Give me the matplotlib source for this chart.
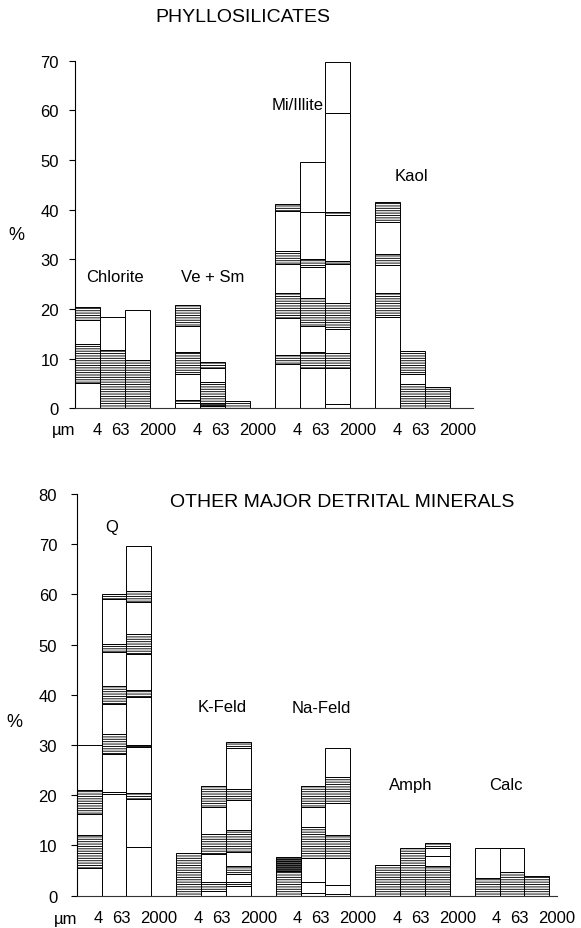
import numpy as np
import matplotlib.pyplot as plt

plt.rcParams['font.family'] = ['Liberation Sans', 'DejaVu Sans']
plt.rcParams['hatch.linewidth'] = 0.65
plt.rcParams['hatch.color'] = '#111111'

# each bar: segment boundaries (%) and fill code per segment
# w = white, h = hatched, d = dark hatched
size_labels = ['4', '63', '2000']

chlorite_bounds = [[0, 5.0, 12.9, 17.8, 20.5], [0, 11.7, 18.3], [0, 9.7, 19.8]]
chlorite_fill = ['whwh', 'hw', 'hw']

vesm_bounds = [[0, 1.0, 1.6, 7.0, 11.3, 16.6, 20.8], [0, 0.5, 1.0, 5.4, 8.1, 9.3], [0, 1.5]]
vesm_fill = ['whwhwh', 'hdhwh', 'h']

illite_bounds = [[0, 8.9, 10.7, 18.1, 23.2, 29.1, 31.6, 39.7, 41.1],
                 [0, 8.1, 11.3, 16.6, 22.3, 28.5, 30.0, 39.5, 49.5],
                 [0, 0.8, 8.1, 11.2, 16.0, 21.2, 29.1, 29.7, 39.0, 39.5, 59.4, 69.8]]
illite_fill = ['whwhwhwh', 'whwhwhww', 'wwhwhwhwhww']

kaol_bounds = [[0, 18.3, 23.2, 28.9, 31.1, 37.6, 41.5], [0, 4.8, 7.0, 11.5], [0, 4.2]]
kaol_fill = ['whwhwh', 'hwh', 'h']

q_bounds = [[0, 5.5, 12.0, 16.3, 21.1, 30.0],
            [0, 20.3, 20.7, 28.2, 32.2, 38.1, 41.7, 48.6, 50.1, 59.0, 60.0],
            [0, 9.6, 19.3, 20.4, 29.6, 30.0, 39.5, 41.0, 48.1, 52.1, 58.4, 60.6, 69.6]]
q_fill = ['whwhw', 'wwwhwhwhwh', 'wwhwhwhwhwhw']

kfeld_bounds = [[0, 8.4], [0, 1.0, 2.7, 8.2, 12.3, 17.7, 21.8],
                [0, 2.0, 2.7, 4.3, 5.9, 8.6, 13.0, 19.1, 21.3, 29.4, 30.6]]
kfeld_fill = ['h', 'whwhwh', 'whwhwhwhwh']

nafeld_bounds = [[0, 5.0, 7.8], [0, 0.6, 2.7, 7.5, 13.6, 17.7, 21.8],
                 [0, 0.4, 2.1, 7.6, 12.0, 18.4, 23.6, 29.4]]
nafeld_fill = ['hd', 'wwwhwh', 'wwwhwhw']

amph_bounds = [[0, 6.2], [0, 9.5], [0, 6.0, 8.0, 9.4, 10.5]]
amph_fill = ['h', 'h', 'hwwh']

calc_bounds = [[0, 3.5, 9.5], [0, 4.8, 9.5], [0, 3.9]]
calc_fill = ['hw', 'hw', 'h']

top_names = ['Chlorite', 'Ve + Sm', 'Mi/Illite', 'Kaol']
top_label_xy = [(1.6, 26.6), (5.52, 26.6), (8.92, 61.1), (13.44, 46.8)]
bot_names = ['Q', 'K-Feld', 'Na-Feld', 'Amph', 'Calc']
bot_label_xy = [(1.41, 73.6), (5.85, 37.6), (9.85, 37.4), (13.45, 22.1), (17.25, 22.1)]

top_groups = [(chlorite_bounds, chlorite_fill), (vesm_bounds, vesm_fill),
              (illite_bounds, illite_fill), (kaol_bounds, kaol_fill)]
bot_groups = [(q_bounds, q_fill), (kfeld_bounds, kfeld_fill), (nafeld_bounds, nafeld_fill),
              (amph_bounds, amph_fill), (calc_bounds, calc_fill)]


def draw_group(ax, g, bounds, fills):
    for i in range(3):
        b = np.array(bounds[i])
        for k, code in enumerate(fills[i]):
            if code == 'w':
                face, hatch = 'white', None
            elif code == 'h':
                face, hatch = 'white', '-------'
            else:
                face, hatch = '#555555', '--------'
            ax.bar(4 * g + i, b[k + 1] - b[k], bottom=b[k], width=1, align='edge',
                   color=face, edgecolor='black', linewidth=0.7, hatch=hatch)


def style_axes(ax, ngroups, xmax, ymax, pad):
    ax.set_xlim(0, xmax)
    ax.set_ylim(0, ymax)
    ax.set_yticks(range(0, ymax + 1, 10))
    ax.spines['top'].set_visible(False)
    ax.spines['right'].set_visible(False)
    ax.spines['left'].set_linewidth(0.8)
    ax.spines['bottom'].set_linewidth(0.8)
    ax.spines['bottom'].set_color('#333333')
    ax.tick_params(axis='y', direction='out', length=4.5, width=0.8, labelsize=12, pad=pad)
    xt, xl = [], []
    for g in range(ngroups):
        xt += [4 * g + 0.88, 4 * g + 1.8, 4 * g + 3.3]
        xl += size_labels
    ax.set_xticks(xt)
    ax.set_xticklabels(xl)
    ax.tick_params(axis='x', length=0, labelsize=12, pad=10)
    ax.text(-0.45, -0.038, '\u00b5m', transform=ax.get_xaxis_transform(),
            ha='center', va='top', fontsize=12, clip_on=False)


fig = plt.figure(figsize=(5.81, 9.29), dpi=100)

ax1 = fig.add_axes([0.1291, 0.5594, 0.6845, 0.3742])
for g, (bd, fl) in enumerate(top_groups):
    draw_group(ax1, g, bd, fl)
    ax1.text(top_label_xy[g][0], top_label_xy[g][1], top_names[g],
             ha='center', va='center', fontsize=12)
style_axes(ax1, 4, 15.9, 70, 7)

ax2 = fig.add_axes([0.1320, 0.0348, 0.8262, 0.4324])
for g, (bd, fl) in enumerate(bot_groups):
    draw_group(ax2, g, bd, fl)
    ax2.text(bot_label_xy[g][0], bot_label_xy[g][1], bot_names[g],
             ha='center', va='center', fontsize=12)
style_axes(ax2, 5, 19.2, 80, 9.5)

fig.text(0.418, 0.981, 'PHYLLOSILICATES', ha='center', va='center', fontsize=14)
fig.text(0.5886, 0.4596, 'OTHER MAJOR DETRITAL MINERALS', ha='center', va='center', fontsize=14)
fig.text(0.0275, 0.747, '%', ha='center', va='center', fontsize=13)
fig.text(0.024, 0.2228, '%', ha='center', va='center', fontsize=13)

fig.savefig('out.png', dpi=100)
